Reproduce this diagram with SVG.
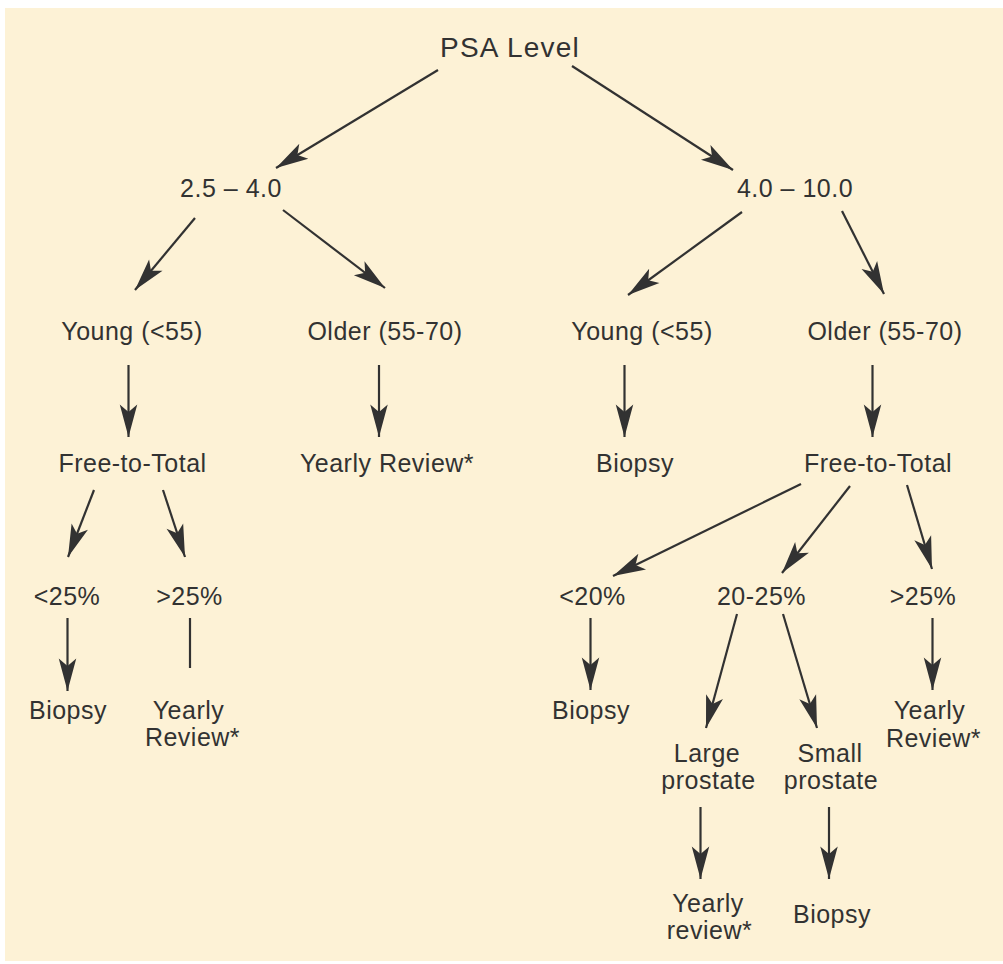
<svg xmlns="http://www.w3.org/2000/svg" width="1003" height="964" viewBox="0 0 1003 964">
<style>
.t{font-family:"Liberation Sans",Arial,sans-serif;font-size:25px;fill:#323232;text-anchor:middle;letter-spacing:0.5px}
.h{font-size:28px;letter-spacing:1.2px}
.c line{stroke:#323232;stroke-width:2.2;fill:none}
.a{marker-end:url(#ah)}
</style>
<defs>
<marker id="ah" markerUnits="userSpaceOnUse" markerWidth="40" markerHeight="40" viewBox="-30 -10 32 20" refX="0" refY="0" orient="auto">
<path d="M0,0 L-26,-7 L-20,0 L-26,7 Z" fill="#323232"/>
</marker>
</defs>
<rect x="5" y="8" width="998" height="953" fill="#fdf2d6"/>
<g id="connectors" class="c">
<line class="a" x1="438" y1="70" x2="276" y2="168"/>
<line class="a" x1="572" y1="66" x2="733" y2="170"/>
<line class="a" x1="195" y1="218" x2="135" y2="290"/>
<line class="a" x1="283" y1="210" x2="385" y2="288"/>
<line class="a" x1="742" y1="212" x2="628" y2="295"/>
<line class="a" x1="842" y1="211" x2="884" y2="294"/>
<line class="a" x1="128.5" y1="365" x2="128.5" y2="437"/>
<line class="a" x1="379" y1="365" x2="379" y2="437"/>
<line class="a" x1="624.5" y1="365" x2="624.5" y2="437"/>
<line class="a" x1="872.5" y1="365" x2="872.5" y2="437"/>
<line class="a" x1="94" y1="490" x2="68" y2="557"/>
<line class="a" x1="163" y1="490" x2="185" y2="557"/>
<line class="a" x1="67.5" y1="618" x2="67.5" y2="691"/>
<line x1="190" y1="618" x2="190" y2="668"/>
<line class="a" x1="801" y1="484" x2="613" y2="576"/>
<line class="a" x1="850" y1="486" x2="782" y2="573"/>
<line class="a" x1="907" y1="485" x2="932" y2="569"/>
<line class="a" x1="590.5" y1="618" x2="590.5" y2="690"/>
<line class="a" x1="737" y1="614" x2="706" y2="728"/>
<line class="a" x1="783" y1="614" x2="817" y2="728"/>
<line class="a" x1="932.5" y1="618" x2="932.5" y2="690"/>
<line class="a" x1="700.5" y1="807" x2="700.5" y2="879"/>
<line class="a" x1="829" y1="807" x2="829" y2="879"/>
</g>
<g id="psa"><text class="t h" x="510" y="57">PSA Level</text></g>
<g id="r1"><text class="t" x="231" y="197">2.5 – 4.0</text></g>
<g id="r2"><text class="t" x="795" y="197">4.0 – 10.0</text></g>
<g id="young1"><text class="t" x="132" y="339.5">Young (&lt;55)</text></g>
<g id="older1"><text class="t" x="385" y="339.5">Older (55-70)</text></g>
<g id="young2"><text class="t" x="642" y="339.5">Young (&lt;55)</text></g>
<g id="older2"><text class="t" x="885" y="339.5">Older (55-70)</text></g>
<g id="ftt1"><text class="t" x="132.5" y="471.5">Free-to-Total</text></g>
<g id="yr1"><text class="t" x="387" y="471.5">Yearly Review*</text></g>
<g id="biopsy1"><text class="t" x="635" y="471.5">Biopsy</text></g>
<g id="ftt2"><text class="t" x="878" y="471.5">Free-to-Total</text></g>
<g id="lt25"><text class="t" x="67" y="604.5">&lt;25%</text></g>
<g id="gt25a"><text class="t" x="189.5" y="604.5">&gt;25%</text></g>
<g id="lt20"><text class="t" x="592.5" y="605">&lt;20%</text></g>
<g id="p2025"><text class="t" x="761.5" y="605">20-25%</text></g>
<g id="gt25b"><text class="t" x="923" y="605">&gt;25%</text></g>
<g id="biopsy2"><text class="t" x="68" y="718.5">Biopsy</text></g>
<g id="yr2"><text class="t" x="188.5" y="718.5">Yearly</text><text class="t" x="192.5" y="746">Review*</text></g>
<g id="biopsy3"><text class="t" x="591" y="718.5">Biopsy</text></g>
<g id="yr3"><text class="t" x="929.5" y="718.5">Yearly</text><text class="t" x="933.5" y="746.5">Review*</text></g>
<g id="large"><text class="t" x="707" y="761.5">Large</text><text class="t" x="708.5" y="788.5">prostate</text></g>
<g id="small"><text class="t" x="830" y="761.5">Small</text><text class="t" x="831" y="788.5">prostate</text></g>
<g id="yr4"><text class="t" x="708" y="912">Yearly</text><text class="t" x="709.5" y="938.5">review*</text></g>
<g id="biopsy4"><text class="t" x="832" y="923">Biopsy</text></g>
</svg>
